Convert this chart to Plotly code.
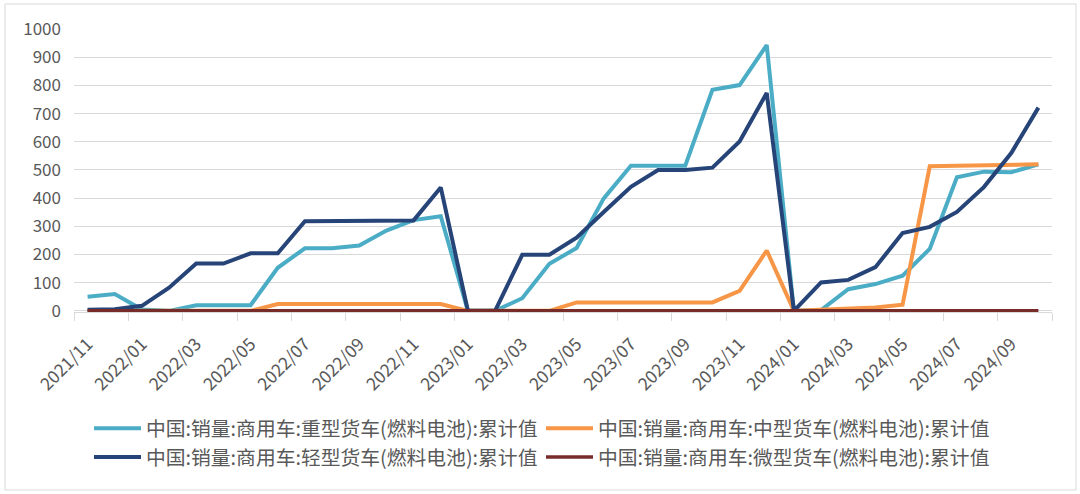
import plotly.graph_objects as go

months = ["2021/11", "2021/12"] + [f"2022/{m:02d}" for m in range(1, 13)] + \
         [f"2023/{m:02d}" for m in range(1, 13)] + [f"2024/{m:02d}" for m in range(1, 11)]

heavy = [50, 60, 5, 0, 20, 20, 20, 153, 222, 222, 232, 285, 322, 336,
         0, 0, 45, 167, 223, 399, 515, 515, 515, 784, 801, 943,
         0, 3, 77, 95, 125, 220, 474, 494, 492, 520]
medium = [0, 0, 0, 0, 0, 0, 0, 24, 24, 24, 24, 24, 24, 24,
          0, 0, 0, 0, 30, 30, 30, 30, 30, 30, 71, 214,
          0, 5, 8, 12, 22, 513, 515, 516, 518, 520]
light = [4, 6, 18, 82, 168, 168, 204, 204, 318, 318, 321, 321, 321, 438,
         0, 0, 199, 199, 260, 351, 440, 500, 500, 508, 601, 773,
         0, 101, 110, 155, 276, 298, 351, 440, 560, 721]
micro = [0] * 36

names = ["中国:销量:商用车:重型货车(燃料电池):累计值",
         "中国:销量:商用车:中型货车(燃料电池):累计值",
         "中国:销量:商用车:轻型货车(燃料电池):累计值",
         "中国:销量:商用车:微型货车(燃料电池):累计值"]
colors = ["#4BACC6", "#F79646", "#264478", "#772C2A"]
widths = [4, 4, 4, 3.5]
series = [heavy, medium, light, micro]

x_idx = list(range(len(months)))
FONT = "Noto Sans CJK SC"

fig = go.Figure()
for name, vals, col, w in zip(names, series, colors, widths):
    fig.add_trace(go.Scatter(x=x_idx, y=vals, mode="lines", name=name,
                             line=dict(color=col, width=w)))

W, H = 1080, 494
L, R, T, B = 74, 28, 29, 182
pw, ph = W - L - R, H - T - B

def px_x(v):
    return (v - L) / pw

def px_y(v):
    return (H - B - v) / ph

fig.update_layout(
    width=W, height=H,
    margin=dict(l=L, r=R, t=T, b=B, autoexpand=False),
    paper_bgcolor="white", plot_bgcolor="white",
    font=dict(family=FONT, color="#595959", size=17),
    showlegend=True,
    legend=dict(orientation="h", x=px_x(89), xanchor="left", y=px_y(409), yanchor="top",
                entrywidth=390, entrywidthmode="pixels", itemwidth=47,
                font=dict(family=FONT, size=19.8, color="#595959"),
                bgcolor="rgba(0,0,0,0)", tracegroupgap=0),
    xaxis=dict(range=[-0.5, len(months) - 0.5], tickmode="array",
               tickvals=x_idx[::2], ticktext=months[::2], tickangle=-45,
               ticks="", showgrid=False, zeroline=False,
               showline=True, linecolor="#D9D9D9", linewidth=1,
               tickfont=dict(family=FONT, size=17.5, color="#595959"),
               ticklabelstandoff=14,
               minor=dict(tickvals=[v - 0.5 for v in x_idx[::2]] + [len(months) - 0.5],
                          ticks="outside", ticklen=8, tickcolor="#D9D9D9", showgrid=False)),
    yaxis=dict(range=[-4, 1000], tickmode="linear", tick0=0, dtick=100,
               showgrid=True, gridcolor="#D9D9D9", gridwidth=1, zeroline=False,
               showline=False, ticks="", ticklabelstandoff=12,
               tickfont=dict(family=FONT, size=17, color="#595959")),
    shapes=[dict(type="rect", xref="paper", yref="paper",
                 x0=px_x(5), x1=px_x(1076), y0=px_y(490), y1=px_y(4),
                 line=dict(color="#D9D9D9", width=1), fillcolor="rgba(0,0,0,0)",
                 layer="below")],
)

fig.write_html("out.html", config={"displayModeBar": False},
               post_script="document.body.style.margin='0';document.body.style.overflow='hidden';")
